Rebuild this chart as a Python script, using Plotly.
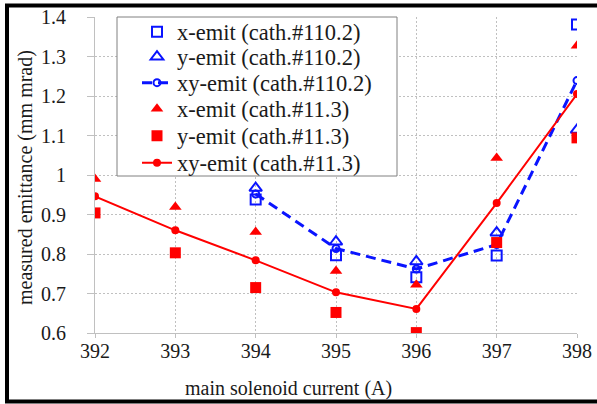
import plotly.graph_objects as go

# Main solenoid current (A)
current = [392, 393, 394, 395, 396, 397, 398]
current_110 = [394, 395, 396, 397, 398]

# Cathode #110.2 emittance (mm mrad)
x_emit_110 = [0.938, 0.797, 0.741, 0.796, 1.381]
y_emit_110 = [0.967, 0.831, 0.781, 0.854, 1.114]
xy_emit_110 = [0.952, 0.814, 0.762, 0.824, 1.239]

# Cathode #11.3 emittance (mm mrad)
x_emit_11 = [0.990, 0.919, 0.856, 0.757, 0.722, 1.043, 1.327]
y_emit_11 = [0.904, 0.803, 0.715, 0.652, 0.601, 0.829, 1.094]
xy_emit_11 = [0.946, 0.860, 0.784, 0.703, 0.661, 0.929, 1.205]

x_ticks = [392, 393, 394, 395, 396, 397, 398]
y_ticks = [0.6, 0.7, 0.8, 0.9, 1.0, 1.1, 1.2, 1.3, 1.4]

BLUE = "#0a14ff"
RED = "#ff0000"
GRID = "#c0c0c0"
TEXT = "#1a1a1a"
FONT = "Liberation Serif, Times New Roman, serif"

# plot area in pixels: left 95, right 577, top 17, bottom 333
L, R, T, B = 95, 577, 17, 333
W, H = R - L, B - T


def px_x(p):
    return (p - L) / W


def px_y(p):
    return (B - p) / H


fig = go.Figure()

traces = [
    dict(x=current_110, y=x_emit_110, mode="markers", name="x-emit (cath.#110.2)",
         marker=dict(symbol="square-open", size=10, color=BLUE, line=dict(width=2, color=BLUE))),
    dict(x=current_110, y=y_emit_110, mode="markers", name="y-emit (cath.#110.2)",
         marker=dict(symbol="triangle-up-open", size=11, color=BLUE, line=dict(width=2, color=BLUE))),
    dict(x=current_110, y=xy_emit_110, mode="lines+markers", name="xy-emit (cath.#110.2)",
         line=dict(color=BLUE, width=3, dash="10px,6px"),
         marker=dict(symbol="circle-open", size=7, color=BLUE, line=dict(width=2, color=BLUE))),
    dict(x=current, y=x_emit_11, mode="markers", name="x-emit (cath.#11.3)",
         marker=dict(symbol="triangle-up", size=11, color=RED)),
    dict(x=current, y=y_emit_11, mode="markers", name="y-emit (cath.#11.3)",
         marker=dict(symbol="square", size=11, color=RED)),
    dict(x=current, y=xy_emit_11, mode="lines+markers", name="xy-emit (cath.#11.3)",
         line=dict(color=RED, width=2),
         marker=dict(symbol="circle", size=8, color=RED)),
]

# one single-entry legend per trace so the rows can sit close together
row_centers = [32, 57, 83, 109, 136, 163]
legend_layouts = {}
for i, (tr, yc) in enumerate(zip(traces, row_centers)):
    key = "legend" if i == 0 else f"legend{i + 1}"
    fig.add_trace(go.Scatter(**tr, legend=key))
    legend_layouts[key] = dict(
        x=px_x(137), y=px_y(yc), xanchor="left", yanchor="middle",
        bgcolor="rgba(0,0,0,0)", borderwidth=0,
        font=dict(family=FONT, size=22.5, color=TEXT),
    )

fig.update_layout(
    width=597, height=404,
    margin=dict(l=L, r=597 - R, t=T, b=404 - B, pad=0, autoexpand=False),
    paper_bgcolor="white", plot_bgcolor="white",
    font=dict(family=FONT, size=20, color=TEXT),
    showlegend=True,
    **legend_layouts,
    shapes=[
        # legend frame
        dict(type="rect", xref="paper", yref="paper", layer="above",
             x0=px_x(117), x1=px_x(397), y0=px_y(176), y1=px_y(17),
             fillcolor="white", line=dict(color="#808080", width=1)),
        # outer frame
        dict(type="rect", xref="paper", yref="paper", layer="above",
             x0=px_x(7), x1=px_x(800), y0=px_y(401.5), y1=px_y(5.5),
             fillcolor="rgba(0,0,0,0)", line=dict(color="black", width=4)),
    ],
    annotations=[
        dict(text="main solenoid current (A)", xref="paper", yref="paper",
             x=px_x(288), y=px_y(388), showarrow=False,
             xanchor="center", yanchor="middle",
             font=dict(family=FONT, size=20, color=TEXT)),
        dict(text="measured emittance (mm mrad)", xref="paper", yref="paper",
             x=px_x(25), y=px_y(178), showarrow=False, textangle=-90,
             xanchor="center", yanchor="middle",
             font=dict(family=FONT, size=20, color=TEXT)),
    ],
)

fig.update_xaxes(
    range=[392, 398], tickvals=x_ticks, ticktext=[str(v) for v in x_ticks],
    showgrid=True, gridcolor=GRID, griddash="2px,2px", gridwidth=1,
    showline=True, linecolor=GRID, linewidth=1,
    ticks="outside", ticklen=4, tickcolor=GRID, zeroline=False,
    ticklabelstandoff=-4,
    tickfont=dict(family=FONT, size=20, color=TEXT),
)
fig.update_yaxes(
    range=[0.6, 1.4], tickvals=y_ticks, ticktext=[f"{v:g}" for v in y_ticks],
    showgrid=True, gridcolor=GRID, griddash="2px,2px", gridwidth=1,
    showline=True, linecolor=GRID, linewidth=1,
    ticks="outside", ticklen=7, tickcolor=GRID, zeroline=False,
    ticklabelstandoff=17,
    tickfont=dict(family=FONT, size=20, color=TEXT),
)

fig.write_html("out.html")
